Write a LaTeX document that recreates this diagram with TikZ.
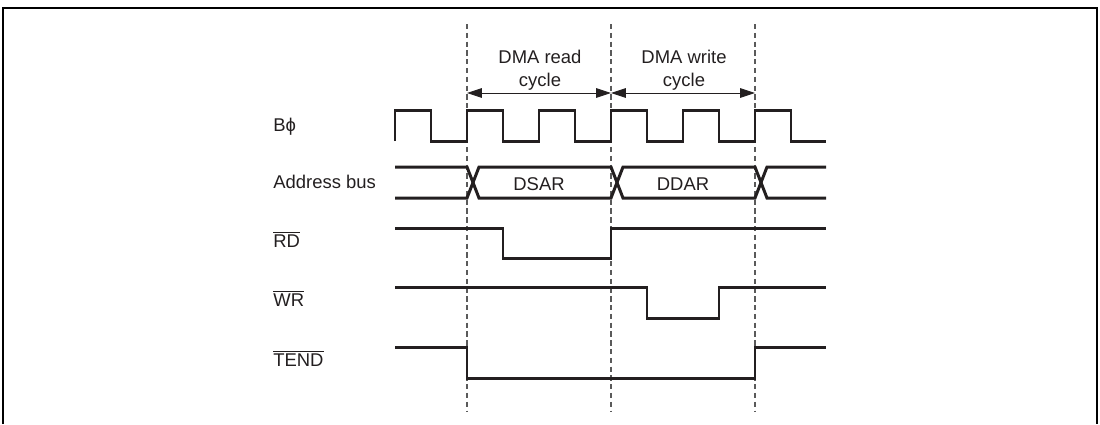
\documentclass[tikz,border=0pt]{standalone}
\usepackage{fontspec}
\setmainfont{Liberation Sans}
\usetikzlibrary{arrows.meta}
\definecolor{inkblack}{RGB}{35,31,32}
\definecolor{gridgray}{RGB}{90,90,90}

\begin{document}
\begin{tikzpicture}[
    x=0.02cm, y=-0.02cm,
    sig/.style={draw=inkblack, line width=1.7pt, line join=miter},
    guide/.style={draw=gridgray, line width=0.8pt, dash pattern=on 3pt off 2pt},
    span/.style={{Triangle[length=8.5pt,width=5.5pt]}-{Triangle[length=8.5pt,width=5.5pt]}, draw=inkblack, fill=inkblack, line width=0.5pt},
    lbl/.style={anchor=base west, inner sep=0pt, font=\fontsize{10.5pt}{12.5pt}\selectfont, text=inkblack},
    cyc/.style={anchor=base, inner sep=0pt, font=\fontsize{10.5pt}{12.5pt}\selectfont, text=inkblack}
]
\useasboundingbox (0,0) rectangle (1100,424);

% Frame
\draw[black, line width=1.5pt] (3,424) -- (3,8) -- (1097,8) -- (1097,424);

% Cycle boundaries
\foreach \name/\xpos in {ca/467, cb/611, cc/755} {
    \coordinate (\name top) at (\xpos,24);
    \coordinate (\name bot) at (\xpos,412);
    \coordinate (\name arr) at (\xpos,93);
    \draw[guide] (\name top) -- (\name bot);
}

% Cycle labels
\draw[span] (caarr) -- (cbarr);
\draw[span] (cbarr) -- (ccarr);
\node[cyc] (readtop) at (540,63) {DMA read};
\node[cyc] (readbot) at (540,86) {cycle};
\node[cyc] (writetop) at (684,63) {DMA write};
\node[cyc] (writebot) at (684,86) {cycle};

% Signal names
\node[lbl] (clk) at (273,131) {Bϕ};
\node[lbl] (addr) at (273,188) {Address bus};
\node[lbl] (rd) at (273,247) {$\overline{\mbox{RD}}$};
\node[lbl] (wr) at (273,306) {$\overline{\mbox{WR}}$};
\node[lbl] (tend) at (273,366) {$\overline{\mbox{TEND}}$};

% Clock
\draw[sig] (395,141) |- (431,110) |- (467,141) |- (503,110) |- (539,141) |- (575,110)
    |- (611,141) |- (647,110) |- (683,141) |- (719,110) |- (755,141) |- (791,110) |- (826,141);

% Address bus
\draw[sig] (395,167) -- (467,167) -- (479,198) -- (611,198) -- (623,167) -- (755,167) -- (767,198) -- (826,198);
\draw[sig] (395,198) -- (467,198) -- (479,167) -- (611,167) -- (623,198) -- (755,198) -- (767,167) -- (826,167);
\node[cyc] (dsar) at (539,190) {DSAR};
\node[cyc] (ddar) at (683,190) {DDAR};

% Strobes
\draw[sig] (395,228) -- (503,228) -- (503,258) -- (611,258) -- (611,228) -- (826,228);
\draw[sig] (395,287) -- (647,287) -- (647,318) -- (719,318) -- (719,287) -- (826,287);
\draw[sig] (395,347) -- (467,347) -- (467,378) -- (755,378) -- (755,347) -- (826,347);

\end{tikzpicture}
\end{document}
